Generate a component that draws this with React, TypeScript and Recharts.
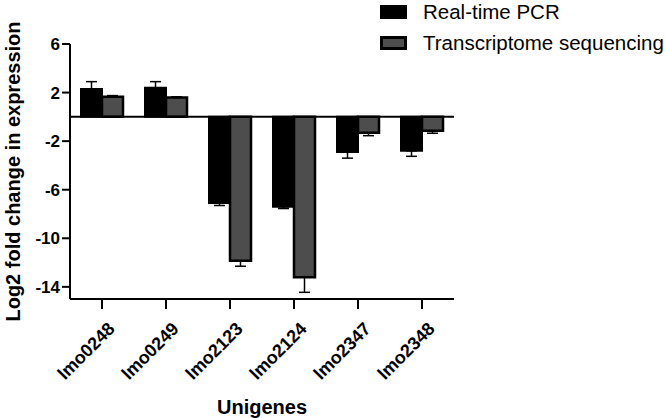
import React from "react";
import { BarChart, Bar, XAxis, YAxis, ErrorBar, ReferenceLine } from "recharts";

const genes = ["lmo0248", "lmo0249", "lmo2123", "lmo2124", "lmo2347", "lmo2348"];
const pcr = [2.3, 2.4, -7.1, -7.4, -2.9, -2.8];
const pcrErr = [0.6, 0.5, 0.2, 0.15, 0.5, 0.45];
const seq = [1.65, 1.6, -11.85, -13.2, -1.3, -1.15];
const seqErr = [0.1, 0.05, 0.45, 1.25, 0.25, 0.2];
const yTicks = [6, 2, -2, -6, -10, -14];

const FONT = "'Liberation Sans', Arial, Helvetica, sans-serif";

// one-sided error bars pointing away from zero
const side = (v: number, e: number) => (v >= 0 ? [0, e] : [e, 0]);

const data = genes.map((g, i) => ({
  gene: g,
  pcr: pcr[i],
  pcrErr: side(pcr[i], pcrErr[i]),
  seq: seq[i],
  seqErr: side(seq[i], seqErr[i]),
}));

const GeneTick = (props: any) => {
  const { x, y, payload } = props;
  return (
    <g transform={`translate(${x + 5},${y + 10})`}>
      <text
        transform="rotate(-45)"
        textAnchor="end"
        dy="0.7em"
        fontSize={18}
        fontWeight="bold"
        fontFamily={FONT}
        fill="#000"
      >
        {payload.value}
      </text>
    </g>
  );
};

const legendRows = [
  { label: "Real-time PCR", fill: "#000" },
  { label: "Transcriptome sequencing", fill: "#4d4d4d" },
];

export default function App() {
  return (
    <div style={{ position: "absolute", left: 0, top: 0, width: 666, height: 418, background: "#fff" }}>
      <BarChart
        width={666}
        height={418}
        data={data}
        margin={{ top: 44, right: 212, bottom: 0, left: 0 }}
        barGap={0}
        barSize={21}
      >
        <XAxis
          dataKey="gene"
          height={119}
          tick={<GeneTick />}
          tickSize={10}
          axisLine={{ stroke: "#000", strokeWidth: 2 }}
          tickLine={{ stroke: "#000", strokeWidth: 2 }}
          interval={0}
          label={{
            value: "Unigenes",
            position: "insideBottom",
            offset: 4,
            style: { fontSize: 20, fontWeight: "bold", fontFamily: FONT, fill: "#000" },
          }}
        />
        <YAxis
          domain={[-15, 6]}
          ticks={yTicks}
          width={70}
          tickSize={8}
          axisLine={{ stroke: "#000", strokeWidth: 2 }}
          tickLine={{ stroke: "#000", strokeWidth: 2 }}
          tick={{ fontSize: 17, fontWeight: "bold", fontFamily: FONT, fill: "#000" }}
          label={{
            value: "Log2 fold change in expression",
            angle: -90,
            position: "insideLeft",
            offset: 13,
            style: { textAnchor: "middle", fontSize: 20, fontWeight: "bold", fontFamily: FONT, fill: "#000" },
          }}
        />
        <Bar dataKey="pcr" name="Real-time PCR" fill="#000" stroke="#000" strokeWidth={2} isAnimationActive={false}>
          <ErrorBar dataKey="pcrErr" width={5.5} stroke="#000" strokeWidth={1.5} />
        </Bar>
        <Bar dataKey="seq" name="Transcriptome sequencing" fill="#4d4d4d" stroke="#000" strokeWidth={2.5} isAnimationActive={false}>
          <ErrorBar dataKey="seqErr" width={5.5} stroke="#000" strokeWidth={1.5} />
        </Bar>
        <ReferenceLine y={0} stroke="#000" strokeWidth={2} />
      </BarChart>
      <div style={{ position: "absolute", left: 380, top: 2, fontFamily: FONT, fontSize: 20.5, color: "#000", lineHeight: "20px" }}>
        {legendRows.map((r, i) => (
          <div key={r.label} style={{ display: "flex", alignItems: "center", height: 20, marginTop: i === 0 ? 0 : 11 }}>
            <span
              style={{
                display: "inline-block",
                width: 21,
                height: 8,
                background: r.fill,
                border: "3px solid #000",
                marginRight: 16,
              }}
            />
            <span>{r.label}</span>
          </div>
        ))}
      </div>
    </div>
  );
}
